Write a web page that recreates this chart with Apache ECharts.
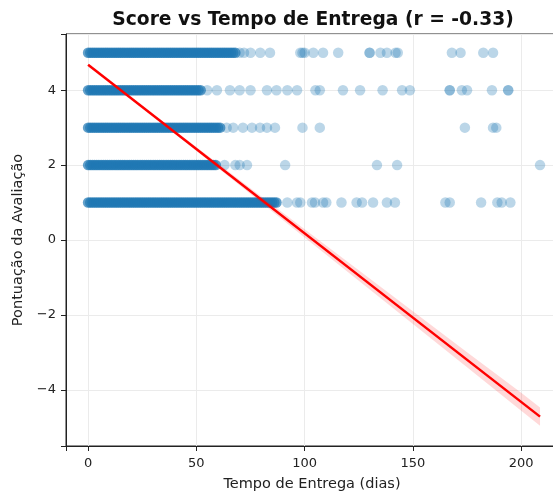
<!DOCTYPE html>
<html><head><meta charset="utf-8">
<script src="https://cdn.jsdelivr.net/npm/echarts@6/dist/echarts.min.js"></script>
<style>html,body{margin:0;padding:0;background:#fff}#c{width:553px;height:495px}</style>
</head><body><div id="c"></div>
<script>
// Delivery time (days) per review score — dense clusters and sparse outliers
const days5Dense = [0,1,2,3,4,5,6,7,8,9,10,11,12,13,14,15,16,17,18,19,20,21,22,23,24,25,26,27,28,29,30,31,32,33,34,35,36,37,38,39,40,41,42,43,44,45,46,47,48,49,50,51,52,53,54,55,56,57,58,59,60,61,62,63,64,65,66,67,68];
const days4Dense = [0,1,2,3,4,5,6,7,8,9,10,11,12,13,14,15,16,17,18,19,20,21,22,23,24,25,26,27,28,29,30,31,32,33,34,35,36,37,38,39,40,41,42,43,44,45,46,47,48,49,50,51,52];
const days3Dense = [0,1,2,3,4,5,6,7,8,9,10,11,12,13,14,15,16,17,18,19,20,21,22,23,24,25,26,27,28,29,30,31,32,33,34,35,36,37,38,39,40,41,42,43,44,45,46,47,48,49,50,51,52,53,54,55,56,57,58,59,60,61];
const days2Dense = [0,1,2,3,4,5,6,7,8,9,10,11,12,13,14,15,16,17,18,19,20,21,22,23,24,25,26,27,28,29,30,31,32,33,34,35,36,37,38,39,40,41,42,43,44,45,46,47,48,49,50,51,52,53,54,55,56,57,58,59];
const days1Dense = [0,1,2,3,4,5,6,7,8,9,10,11,12,13,14,15,16,17,18,19,20,21,22,23,24,25,26,27,28,29,30,31,32,33,34,35,36,37,38,39,40,41,42,43,44,45,46,47,48,49,50,51,52,53,54,55,56,57,58,59,60,61,62,63,64,65,66,67,68,69,70,71,72,73,74,75,76,77,78,79,80,81,82,83,84,85,86,87];

const days5Sparse = [70,72,75,79.5,84,98,99,100,104,108.5,115.5,130,130,135,138,142,143,168,172,182.5,187];
const days4Sparse = [55,59.5,65.5,70,75,82.6,87,92,96.5,105,107,117.7,125.6,136,145,148.6,167,167,172.6,175,186.5,194,194];
const days3Sparse = [64,67,71.5,75.7,79.4,82.6,86.3,99,107,174,187,188.5];
const days2Sparse = [63,68,70,73.4,91,133.4,142.7,208.7];
const days1Sparse = [92,96.5,98,103.4,104.8,108.5,110,117,124,126.5,131.6,138,141.7,165,167,181.5,189,191,195];

const scores = [5, 4, 3, 2, 1];

// Regression line and its confidence band
const regDays = [0, 208.7];
const regScore = [4.68, -4.716];
const bandDays  = [0, 25, 50, 75, 100, 125, 150, 175, 200, 208.7];
const bandUpper = [4.70, 3.575, 2.48, 1.385, 0.29, -0.81, -1.90, -3.00, -4.08, -4.47];
const bandLower = [4.66, 3.535, 2.38, 1.225, 0.07, -1.09, -2.24, -3.40, -4.56, -4.96];

const xTicks = [0, 50, 100, 150, 200];
const yTicks = [-4, -2, 0, 2, 4];

const denseSets = [days5Dense, days4Dense, days3Dense, days2Dense, days1Dense];
const sparseSets = [days5Sparse, days4Sparse, days3Sparse, days2Sparse, days1Sparse];
const densePts = [], sparsePts = [];
scores.forEach((s, i) => {
  denseSets[i].forEach(d => densePts.push([d, s]));
  sparseSets[i].forEach(d => sparsePts.push([d, s]));
});

const font = 'DejaVu Sans';
const chart = echarts.init(document.getElementById('c'));
chart.setOption({
  backgroundColor: '#fff',
  animation: false,
  title: {
    text: 'Score vs Tempo de Entrega (r = -0.33)',
    left: 308, top: 6, textAlign: 'center',
    textStyle: { fontFamily: font, fontWeight: 'bold', fontSize: 18.7, color: '#111' }
  },
  grid: { left: 66, top: 34, bottom: 49, right: -5, show: true, borderColor: '#222', borderWidth: 1,
    backgroundColor: 'transparent', containLabel: false, outerBoundsMode: 'none' },
  xAxis: {
    type: 'value', min: -10.2, max: 217, splitNumber: 5,
    name: 'Tempo de Entrega (dias)', nameLocation: 'middle', nameGap: 31,
    nameTextStyle: { fontFamily: font, fontSize: 14.5, color: '#222' },
    axisLine: { show: true, onZero: false, lineStyle: { color: '#222', width: 1 } },
    axisTick: { show: true, length: 5, lineStyle: { color: '#222', width: 1 } },
    axisLabel: { fontFamily: font, fontSize: 13, color: '#222', margin: 11,
      formatter: v => (xTicks.includes(v) ? String(v) : '') },
    splitLine: { show: true, lineStyle: { color: '#ebebeb', width: 1 } }
  },
  yAxis: {
    type: 'value', min: -5.5, max: 5.5, splitNumber: 5,
    name: 'Pontuação da Avaliação', nameLocation: 'middle', nameGap: 40,
    nameTextStyle: { fontFamily: font, fontSize: 14.5, color: '#222' },
    axisLine: { show: true, onZero: false, lineStyle: { color: '#222', width: 1 } },
    axisTick: { show: true, length: 5, lineStyle: { color: '#222', width: 1 } },
    axisLabel: { fontFamily: font, fontSize: 13, color: '#222', margin: 10,
      formatter: v => (yTicks.includes(v) ? (v < 0 ? '\u2212' + Math.abs(v) : String(v)) : '') },
    splitLine: { show: true, lineStyle: { color: '#ebebeb', width: 1 } }
  },
  series: [
    { type: 'scatter', data: densePts, symbolSize: 10.5, itemStyle: { color: '#1f77b4', opacity: 0.7 }, z: 2, silent: true },
    { type: 'scatter', data: sparsePts, symbolSize: 10.5, itemStyle: { color: '#1f77b4', opacity: 0.3 }, z: 2, silent: true },
    { type: 'custom', z: 3, silent: true,
      data: bandDays.map((d, i) => [d, bandUpper[i], bandLower[i]]),
      encode: { x: 0, y: [1, 2] },
      renderItem: (params, api) => {
        if (params.dataIndex !== 0) return null;
        const pts = [];
        bandDays.forEach((d, i) => pts.push(api.coord([d, bandUpper[i]])));
        for (let i = bandDays.length - 1; i >= 0; i--) pts.push(api.coord([bandDays[i], bandLower[i]]));
        return { type: 'polygon', shape: { points: pts }, style: { fill: 'rgba(255,0,0,0.15)' } };
      }
    },
    { type: 'line', z: 4, silent: true, symbol: 'none',
      data: regDays.map((d, i) => [d, regScore[i]]),
      lineStyle: { color: '#ff0000', width: 2.5 } }
  ]
});
</script></body></html>
